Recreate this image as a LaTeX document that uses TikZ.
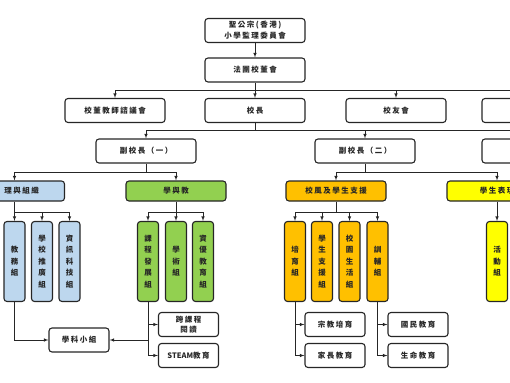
\documentclass[tikz,border=0pt]{standalone}
\usepackage{fontspec}
\newfontfamily\cjk[LetterSpace=20]{Noto Sans CJK TC}
\newfontfamily\cjkcol{Noto Sans CJK TC}
\usetikzlibrary{arrows}
\usetikzlibrary{positioning}
\definecolor{adminblue}{HTML}{BDD7EE}
\definecolor{teachgreen}{HTML}{92D050}
\definecolor{supportorange}{HTML}{FFC000}
\definecolor{performyellow}{HTML}{FFFF00}
\definecolor{inkgray}{HTML}{262626}
\tikzset{
  org_box/.style = {align=center, inner sep=0pt, draw=inkgray, text=inkgray,
    rounded corners=3pt, line width=1.1pt},
  head_box/.style = {org_box, fill=white, minimum width=100pt,
    minimum height=24pt, font=\cjk\bfseries\fontsize{7.5}{11}\selectfont},% conseil, direction
  group_box/.style = {org_box, minimum width=100pt, minimum height=20pt,
    font=\cjk\bfseries\fontsize{7.5}{11}\selectfont},% domaine
  unit_box/.style = {org_box, minimum width=21pt, minimum height=80pt,
    font=\cjkcol\bfseries\fontsize{7.5}{11.5}\selectfont},% groupe, texte vertical
  task_box/.style = {org_box, fill=white, minimum width=60pt,
    minimum height=24pt, font=\cjk\bfseries\fontsize{7.5}{10.5}\selectfont},% sous-groupe
  link_line/.style = {draw=inkgray, line width=0.6pt},
  link_arrow/.style = {link_line, -latex}
}
\begin{document}
\begin{tikzpicture}[x=1pt, y=-1pt]
  \useasboundingbox (0,0) rectangle (510,382);
  \clip (0,0) rectangle (510,382);
  % direction
  \node [head_box] (sheng) at (255,30.5) {聖公宗(香港)\\小學監理委員會};
  \node [head_box] (fatuan) at (255,70) {法團校董會};
  \node [head_box] (zixun) at (115,110.5) {校董教師諮議會};
  \node [head_box] (xiaozhang) at (255,110.5) {校長};
  \node [head_box] (xiaoyou) at (396,110.5) {校友會};
  \node [head_box] (other_body) at (532,110.5) {};
  \node [head_box] (vp_one) at (146,151) {副校長（一）};
  \node [head_box] (vp_two) at (365,151) {副校長（二）};
  \node [head_box] (vp_three) at (532,151) {};
  % domaines
  \node [group_box, fill=adminblue] (admin) at (14.5,191) {};
  \node [font=\cjk\bfseries\fontsize{7.5}{11}\selectfont, text=inkgray, anchor=east,
    inner sep=0pt] (admin_label) at (39,191) {理與組織};
  \node [group_box, fill=teachgreen] (teach) at (176,191) {學與教};
  \node [group_box, fill=supportorange] (support) at (336,191) {校風及學生支援};
  \node [group_box, fill=performyellow] (perform) at (497,191) {學生表現};
  % groupes
  \node [unit_box, fill=adminblue] (jiaowu) at (14.5,261.5) {教\\務\\組};
  \node [unit_box, fill=adminblue] (tuiguang) at (42,261.5) {學\\校\\推\\廣\\組};
  \node [unit_box, fill=adminblue] (zixun_it) at (69.5,261.5) {資\\訊\\科\\技\\組};
  \node [unit_box, fill=teachgreen] (kecheng) at (148,261.5) {課\\程\\發\\展\\組};
  \node [unit_box, fill=teachgreen] (xueshu) at (176,261.5) {學\\術\\組};
  \node [unit_box, fill=teachgreen] (ziyou) at (203,261.5) {資\\優\\教\\育\\組};
  \node [unit_box, fill=supportorange] (peiyu) at (295,261.5) {培\\育\\組};
  \node [unit_box, fill=supportorange] (zhiyuan) at (322,261.5) {學\\生\\支\\援\\組};
  \node [unit_box, fill=supportorange] (shenghuo) at (349.5,261.5) {校\\園\\生\\活\\組};
  \node [unit_box, fill=supportorange] (xunfu) at (377.5,261.5) {訓\\輔\\組};
  \node [unit_box, fill=performyellow] (huodong) at (497,261.5) {活\\動\\組};
  % sous-groupes
  \node [task_box] (xueke) at (79,340) {學科小組};
  \node [task_box] (kuake) at (188.5,324.5) {跨課程\\閱讀};
  \node [task_box] (steam) at (188.5,355.5) {{\cjkcol\bfseries STEAM}教育};
  \node [task_box] (zongjiao) at (335,324.5) {宗教培育};
  \node [task_box] (jiazhang) at (335,355.5) {家長教育};
  \node [task_box] (guomin) at (418,324.5) {國民教育};
  \node [task_box] (shengming) at (418,355.5) {生命教育};
  % liens
  \coordinate (bus_top) at (255,90);
  \coordinate (bus_vp) at (255,130);
  \coordinate (bus_one) at (146,172);
  \coordinate (bus_two) at (365,172);
  \coordinate (bus_admin) at (14.5,212.5);
  \coordinate (bus_teach) at (176,212.5);
  \coordinate (bus_support) at (336,212.5);
  \draw [link_arrow] (sheng) -- (fatuan);
  \draw [link_line] (fatuan) -- (bus_top);
  \draw [link_arrow] (bus_top) -| (zixun);
  \draw [link_arrow] (bus_top) -| (xiaozhang);
  \draw [link_arrow] (bus_top) -| (xiaoyou);
  \draw [link_arrow] (bus_top) -| (other_body);
  \draw [link_line] (xiaozhang) -- (bus_vp);
  \draw [link_arrow] (bus_vp) -| (vp_one);
  \draw [link_arrow] (bus_vp) -| (vp_two);
  \draw [link_arrow] (bus_vp) -| (vp_three);
  \draw [link_line] (vp_one) -- (bus_one);
  \draw [link_arrow] (bus_one) -| (admin);
  \draw [link_arrow] (bus_one) -| (teach);
  \draw [link_line] (vp_two) -- (bus_two);
  \draw [link_arrow] (bus_two) -| (support);
  \draw [link_arrow] (bus_two) -| (perform);
  \draw [link_line] (admin) -- (bus_admin);
  \draw [link_arrow] (bus_admin) -| (jiaowu);
  \draw [link_arrow] (bus_admin) -| (tuiguang);
  \draw [link_arrow] (bus_admin) -| (zixun_it);
  \draw [link_line] (teach) -- (bus_teach);
  \draw [link_arrow] (bus_teach) -| (kecheng);
  \draw [link_arrow] (bus_teach) -| (xueshu);
  \draw [link_arrow] (bus_teach) -| (ziyou);
  \draw [link_line] (support) -- (bus_support);
  \draw [link_arrow] (bus_support) -| (peiyu);
  \draw [link_arrow] (bus_support) -| (zhiyuan);
  \draw [link_arrow] (bus_support) -| (shenghuo);
  \draw [link_arrow] (bus_support) -| (xunfu);
  \draw [link_arrow] (perform) -- (huodong);
  \draw [link_arrow] (jiaowu) |- (xueke);
  \draw [link_arrow] (kecheng) |- (xueke);
  \draw [link_arrow] (kecheng) |- (kuake);
  \draw [link_arrow] (kecheng) |- (steam);
  \draw [link_arrow] (peiyu) |- (zongjiao);
  \draw [link_arrow] (peiyu) |- (jiazhang);
  \draw [link_arrow] (xunfu) |- (guomin);
  \draw [link_arrow] (xunfu) |- (shengming);
\end{tikzpicture}
\end{document}
